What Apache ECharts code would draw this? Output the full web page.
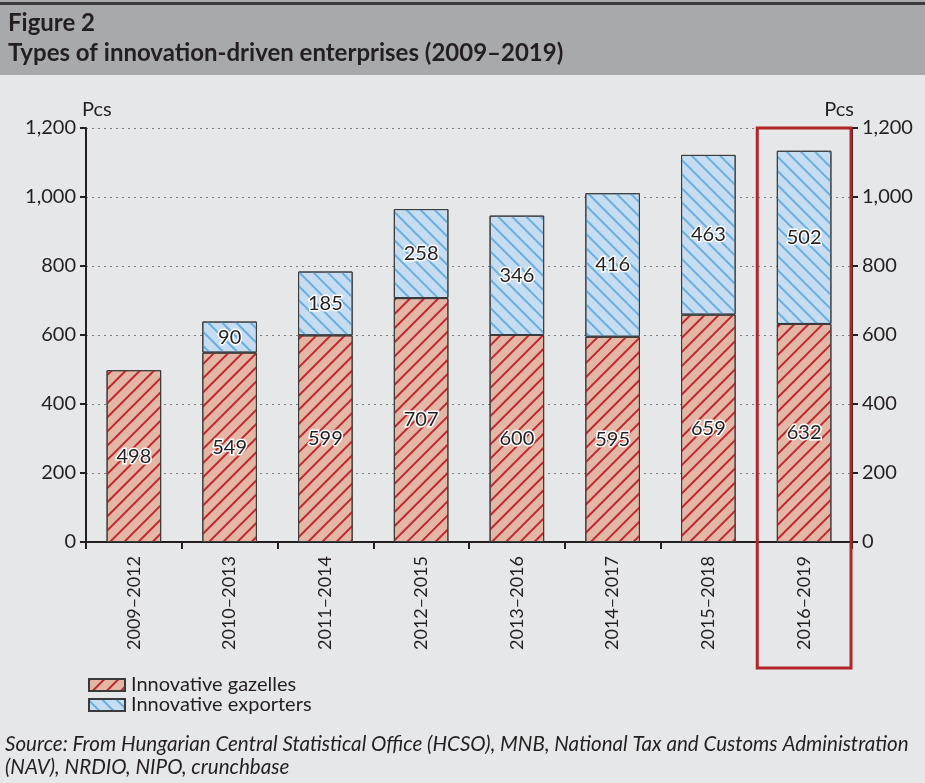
<!DOCTYPE html>
<html><head><meta charset="utf-8">
<script src="https://cdn.jsdelivr.net/npm/echarts@6/dist/echarts.min.js"></script>
<style>html,body{margin:0;padding:0;background:#e6e7e9;}#c{width:925px;height:783px;}</style>
</head><body><div id="c"></div>
<script>
const categories = ['2009–2012','2010–2013','2011–2014','2012–2015','2013–2016','2014–2017','2015–2018','2016–2019'];
const gazelles = [498,549,599,707,600,595,659,632];
const exporters = [null,90,185,258,346,416,463,502];
const yTicks = [0,200,400,600,800,1000,1200];
const FONT = 'Lato';
const TXT = '#231f20';

const chart = echarts.init(document.getElementById('c'), null, {renderer:'canvas'});
const labelStyle = {show:true, position:'inside', fontFamily:FONT, fontSize:20, color:TXT, textBorderColor:'#fff', textBorderWidth:3};
const yAxisCommon = {
  type:'value', min:yTicks[0], max:yTicks[yTicks.length-1], interval:200,
  name:'Pcs', nameGap:8,
  axisLine:{show:true, lineStyle:{color:'#231f20', width:2}},
  axisTick:{show:true, length:6, lineStyle:{color:'#231f20', width:2}},
  axisLabel:{fontFamily:FONT, fontSize:20, color:TXT, margin:10, formatter:v=>v.toLocaleString('en-US')},
};
chart.setOption({
  backgroundColor:'#e6e7e9',
  animation:false,
  grid:{left:86, right:73, top:128, bottom:241, containLabel:false},
  legend:{
    orient:'vertical', left:83, top:670, itemWidth:36, itemHeight:12, itemGap:0, icon:'rect',
    textStyle:{fontFamily:FONT, fontSize:20, color:TXT, padding:[0,0,0,1]},
    data:['Innovative gazelles','Innovative exporters']
  },
  xAxis:{
    type:'category', data:categories,
    axisLine:{lineStyle:{color:'#231f20', width:2}},
    axisTick:{show:true, length:7, lineStyle:{color:'#231f20', width:2}},
    axisLabel:{rotate:90, fontFamily:FONT, fontSize:18, color:TXT, margin:14}
  },
  yAxis:[
    Object.assign({}, yAxisCommon, {position:'left', nameTextStyle:{fontFamily:FONT, fontSize:20, color:TXT, align:'left', padding:[0,0,0,-4]},
      splitLine:{show:true, lineStyle:{color:'#7d7d7d', type:[2,4], width:1}}}),
    Object.assign({}, yAxisCommon, {position:'right', nameTextStyle:{fontFamily:FONT, fontSize:20, color:TXT, align:'right', padding:[0,-2,0,0]},
      splitLine:{show:false}})
  ],
  series:[
    {name:'Innovative gazelles', type:'bar', stack:'a', data:gazelles, barWidth:'57%',
      itemStyle:{color:'#e3b6a6', borderColor:'#3a3a3a', borderWidth:1,
        decal:{symbol:'rect', symbolSize:1, dashArrayX:[1,0], dashArrayY:[2,8], rotation:-Math.PI/4, color:'#c0282d'}},
      label:labelStyle},
    {name:'Innovative exporters', type:'bar', stack:'a', data:exporters, barWidth:'57%',
      itemStyle:{color:'#c6dcf0', borderColor:'#3a3a3a', borderWidth:1,
        decal:{symbol:'rect', symbolSize:1, dashArrayX:[1,0], dashArrayY:[2,8], rotation:Math.PI/4, color:'#6aaedf'}},
      label:labelStyle}
  ]
});

const last = categories[categories.length-1];
const cx = chart.convertToPixel({xAxisIndex:0}, last);
const band = (925-86-73)/categories.length;
const yTop = chart.convertToPixel({yAxisIndex:0}, yTicks[yTicks.length-1]);
const y0 = chart.convertToPixel({yAxisIndex:0}, 0);
chart.setOption({graphic:[
  {type:'rect', left:0, top:0, shape:{x:0,y:0,width:925,height:75}, style:{fill:'#a7a9ac'}, z:0},
  {type:'rect', shape:{x:0,y:2,width:925,height:3}, style:{fill:'#3b3b3d'}, z:1},
  {type:'text', left:8, top:11, style:{text:'Figure 2', fontFamily:FONT, fontWeight:'bold', fontSize:24, fill:TXT}, z:2},
  {type:'text', left:8, top:41, style:{text:'Types of innovation-driven enterprises (2009–2019)', fontFamily:FONT, fontWeight:'bold', fontSize:24, fill:TXT}, z:2},
  {type:'rect', shape:{x:cx-band/2+1, y:yTop, width:band-2, height:(y0-yTop)+126}, style:{fill:null, stroke:'#b2242a', lineWidth:3}, z:10},
  {type:'text', left:5, top:733, style:{text:'Source: From Hungarian Central Statistical Office (HCSO), MNB, National Tax and Customs Administration\n(NAV), NRDIO, NIPO, crunchbase', fontFamily:FONT, fontStyle:'italic', fontSize:20.6, lineHeight:23, fill:TXT}, z:2}
]});
</script></body></html>
